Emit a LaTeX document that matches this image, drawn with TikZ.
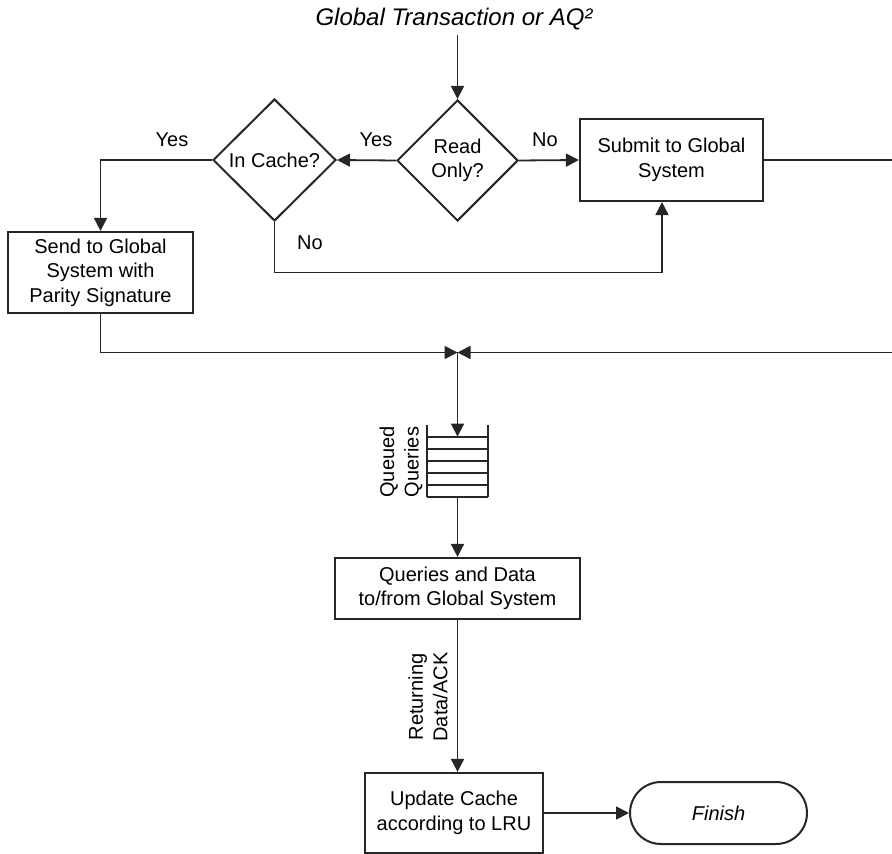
\documentclass[tikz,border=0pt]{standalone}
\usepackage{fontspec}
\setmainfont{Liberation Sans}
\usetikzlibrary{shapes.geometric,shapes.misc,arrows.meta,calc}

\begin{document}
\begin{tikzpicture}[x=0.5pt,y=-0.5pt,
  every node/.style={font=\fontsize{10}{12.25}\selectfont, align=center},
  line/.style={line width=0.9pt, draw=black!85},
  arr/.style={line/.try, -{Triangle[length=6.5pt,width=6.5pt]}},
  proc/.style={draw=black!85, line width=1.1pt, rectangle, inner sep=0pt},
  decision/.style={draw=black!85, line width=1pt, diamond, inner sep=0pt},
  term/.style={draw=black!85, line width=1pt, rounded rectangle, inner sep=0pt},
  lbl/.style={inner sep=0pt}
]
\useasboundingbox (0,0) rectangle (892,854);

% entry label
\node[lbl, font=\fontsize{12}{14}\selectfont\itshape] (title) at (454,19) {Global Transaction or AQ²};

% decisions
\node[decision, minimum width=60.5pt, minimum height=60.5pt] (ro) at (457.5,160.5) {Read\\Only?};
\node[decision, minimum width=61.5pt, minimum height=61pt] (ic) at (274.5,160) {In Cache?};

% process boxes
\node[proc, minimum width=91.5pt, minimum height=41pt] (submit) at (671.5,160) {Submit to Global\\System};
\node[proc, minimum width=92.5pt, minimum height=40.5pt] (send) at (100.5,272.5) {Send to Global\\System with\\Parity Signature};
\node[proc, minimum width=122.5pt, minimum height=30.5pt] (qd) at (457.5,588.5) {Queries and Data\\to/from Global System};
\node[proc, minimum width=89pt, minimum height=40pt] (upd) at (454,813) {Update Cache\\according to LRU};
\node[term, minimum width=88.5pt, minimum height=31pt] (fin) at (718.5,813) {\itshape Finish};

% queue of pending queries
\node[minimum width=30.5pt, minimum height=30pt, inner sep=0pt] (queue) at (457.5,467) {};
\foreach \yy in {437,449,461,473,485,497}
  \draw[line] (427,\yy) -- (488,\yy);
\draw[line] (427,425) -- (427,497);
\draw[line] (488,425) -- (488,497);
\node[lbl, rotate=90] (qlabel) at (401,462) {Queued\\Queries};

\node[lbl, rotate=90] (rlabel) at (428,697) {Returning\\Data/ACK};

% branch labels
\node[lbl] (y1) at (376,140) {Yes};
\node[lbl] (n1) at (545,140) {No};
\node[lbl] (y2) at (172,140) {Yes};
\node[lbl] (n2) at (310,243) {No};

% routing points
\coordinate (tin) at (457.5,35);
\coordinate (merge) at (457.5,352.5);
\coordinate (j1) at (662,272.5);
\coordinate (rt) at (900,160);
\coordinate (rb) at (900,352.5);

% connectors
\draw[arr] (tin) -- (ro.north);
\draw[arr] (ro.west) -- (ic.east);
\draw[arr] (ro.east) -- (submit.west);
\draw[arr] (ic.west) -| (send.north);
\draw[arr] (ic.south) |- (j1) -- (j1 |- submit.south);
\draw[arr] (send.south) |- (merge);
\draw[arr] (submit.east) -- (rt) -- (rb) -- (merge);
\draw[arr] (merge) -- (queue.north);
\draw[arr] (queue.south) -- (qd.north);
\draw[arr] (qd.south) -- (qd.south |- upd.north);
\draw[arr] (upd.east) -- (fin.west);
\end{tikzpicture}
\end{document}
